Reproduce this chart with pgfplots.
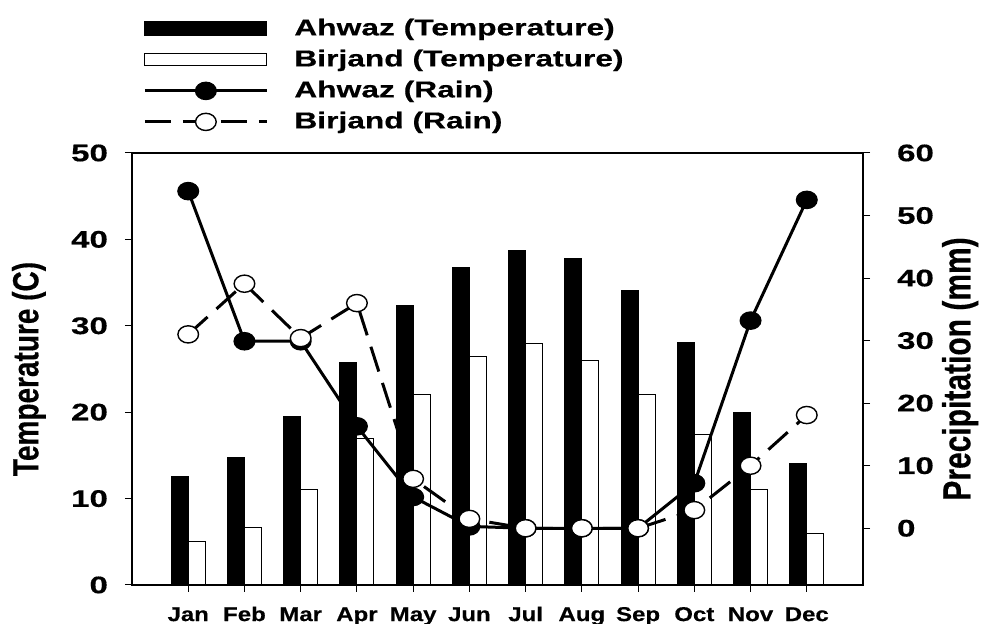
\documentclass[border=0pt]{standalone}
\usepackage{fontspec}
\setmainfont{Liberation Sans}[FakeStretch=1.2, BoldFeatures={FakeBold=0.4}]
\newfontfamily\widefont{Liberation Sans}[FakeStretch=1.38, BoldFeatures={FakeBold=0.4}]
\newfontfamily\rotfont{Liberation Sans}[BoldFeatures={FakeBold=0.4}]
\usepackage{pgfplots}
\usepackage{pgfplotstable}
\pgfplotsset{compat=1.18}

\pgfplotstableread{
m  at   bt   ar    br
1  12.5 5.0  53.9  31.0
2  14.8 6.6  29.9  39.1
3  19.5 11.0 29.9  30.4
4  25.8 17.0 16.3  36.0
5  32.4 22.0 5.0   7.9
6  36.8 26.5 0.3   1.5
7  38.7 28.0 0.0   0.0
8  37.8 26.0 0.0   0.0
9  34.1 22.0 0.0   0.0
10 28.1 17.4 7.2   2.9
11 20.0 11.0 33.2  10.0
12 14.1 6.0  52.5  18.1
}\data

\newcommand{\tickfont}{\widefont\fontsize{12}{14}\selectfont\bfseries}
\newcommand{\monthfont}{\fontsize{10}{12}\selectfont\bfseries}
\newcommand{\legfont}{\widefont\fontsize{11.5}{13}\selectfont\bfseries}

\pgfplotsset{
  common/.style={
    at={(0pt,0pt)}, anchor=south west,
    scale only axis, width=365.5pt, height=216pt,
    xmin=0, xmax=13,
    tick align=outside, major tick length=3.5pt,
    axis line style={line width=0.6pt},
    every tick/.style={black, line width=0.5pt},
    every tick label/.append style={font=\tickfont},
    /pgf/number format/assume math mode=true,
  },
  longline legend/.style={legend image code/.code={\draw[mark repeat=2,mark phase=2,##1] plot coordinates {(0pt,0pt) (30.5pt,0pt) (61pt,0pt)};}},
  blackbar legend/.style={legend image code/.code={\draw[fill=black,draw=black,line width=0.5pt] (0pt,-3.5pt) rectangle (61pt,3.5pt);}},
  whitebar legend/.style={legend image code/.code={\draw[fill=white,draw=black,line width=0.5pt] (0pt,-3pt) rectangle (61pt,3pt);}},
}

\begin{document}
\begin{tikzpicture}
\useasboundingbox (-66pt,-19.5pt) rectangle (424.5pt,292.5pt);
\begin{axis}[
  common,
  ymin=0, ymax=50,
  ytick={0,10,...,50},
  xtick={1,...,12},
  xticklabels={Jan,Feb,Mar,Apr,May,Jun,Jul,Aug,Sep,Oct,Nov,Dec},
  xticklabel style={font=\monthfont, text height=7.5pt, text depth=0pt, yshift=-3.5pt},
  yticklabel style={xshift=-5pt},
  xtick pos=left, ytick pos=left,
  every axis y label/.style={at={(axis description cs:-0.141,0.5)}, rotate=90, anchor=center},
  ylabel={\scalebox{1}[1.3]{\rotfont\fontsize{14}{16}\selectfont\bfseries Temperature (C)}},
]
\addplot[ybar, bar width=8.5pt, bar shift=-4.25pt, fill=black, draw=black, line width=0.5pt] table[x=m,y=at]{\data};
\addplot[ybar, bar width=8.5pt, bar shift=4.25pt, fill=white, draw=black, line width=0.5pt] table[x=m,y=bt]{\data};
\end{axis}
\begin{axis}[
  common,
  ymin=-9.07, ymax=60,
  ytick={0,10,...,60},
  yticklabel style={xshift=10pt},
  axis x line=none, axis y line*=right,
  every axis y label/.style={at={(axis description cs:1.133,0.5)}, rotate=90, anchor=center},
  ylabel={\scalebox{1}[1.3]{\rotfont\fontsize{15}{17}\selectfont\bfseries Precipitation (mm)}},
  legend style={at={(axis description cs:0.015,1.3148)}, anchor=north west, draw=none, fill=none,
    inner sep=0pt, column sep=11pt, row sep=4pt,
    nodes={inner xsep=2pt, inner ysep=0pt, text height=9pt, text depth=2.5pt, font=\legfont}},
  legend cell align=left,
]
\addlegendimage{blackbar legend}
\addlegendentry{Ahwaz (Temperature)}
\addlegendimage{whitebar legend}
\addlegendentry{Birjand (Temperature)}
\addplot[black, line width=1.5pt, mark=*, mark size=4.3pt, mark options={solid, fill=black, line width=0.7pt, xscale=1.2}, longline legend]
  table[x=m,y=ar]{\data};
\addlegendentry{Ahwaz (Rain)}
\addplot[black, line width=1.5pt, dash pattern=on 13pt off 6pt, mark=*, mark size=4.3pt, mark options={solid, fill=white, line width=0.7pt, xscale=1.2}, longline legend]
  table[x=m,y=br]{\data};
\addlegendentry{Birjand (Rain)}
\end{axis}
\end{tikzpicture}
\end{document}
